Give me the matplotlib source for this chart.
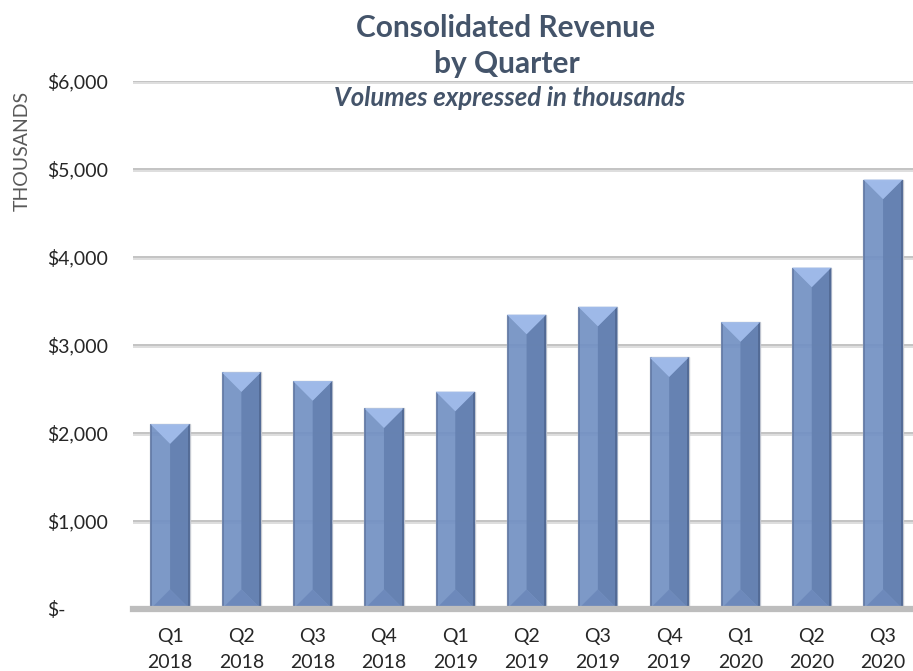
import matplotlib
matplotlib.use("Agg")
import matplotlib.pyplot as plt
from matplotlib.patches import Polygon
import numpy as np

quarters = ["Q1", "Q2", "Q3", "Q4", "Q1", "Q2", "Q3", "Q4", "Q1", "Q2", "Q3"]
years = ["2018", "2018", "2018", "2018", "2019", "2019", "2019", "2019", "2020", "2020", "2020"]
revenue = [2100, 2690, 2590, 2280, 2470, 3345, 3435, 2860, 3260, 3880, 4880]
yticks = [0, 1000, 2000, 3000, 4000, 5000, 6000]
ytick_labels = ["$-", "$1,000", "$2,000", "$3,000", "$4,000", "$5,000", "$6,000"]

plt.rcParams['font.family'] = ['Lato', 'DejaVu Sans']

W, H = 913, 671
fig = plt.figure(figsize=(W / 100, H / 100), dpi=100)
ax = fig.add_axes([133 / W, 1 - 609 / H, (913 - 133) / W, (609 - 81) / H])
ax.set_xlim(-0.52, 10.42)
ax.set_ylim(0, 6000)
for s in ax.spines.values():
    s.set_visible(False)

ppx = ax.transData.transform((1, 0))[0] - ax.transData.transform((0, 0))[0]
ppy = ax.transData.transform((0, 1))[1] - ax.transData.transform((0, 0))[1]

# gridlines (line with soft shadow)
for yv in yticks[1:]:
    ax.axhline(yv, color="#b9b9b9", lw=1.2, zorder=1)
    ax.axhline(yv - 1.6 / ppy, color="#dedede", lw=1.4, zorder=1)
ax.axhline(0, color="#bdbdbd", lw=4.5, zorder=4, clip_on=False)

x = np.arange(len(revenue))
bw = 0.55
bars = ax.bar(x, revenue, width=bw, color="#7290c3", edgecolor="#c6c9d0",
              linewidth=1.0, alpha=0.92, zorder=2)

# bevel shading computed from bar geometry
for b in bars:
    x0 = b.get_x()
    w = b.get_width()
    h = b.get_height()
    xc = x0 + w / 2
    d = (w / 2) * ppx / ppy  # 45-degree depth in data units
    e = 2.0 / ppx  # narrow edge strip
    # right half darker
    ax.add_patch(Polygon([(xc, d), (x0 + w, 0), (x0 + w, h), (xc, h - d)],
                         closed=True, facecolor="#6480b0", alpha=0.9, lw=0, zorder=2.5))
    # darker edge strips
    ax.add_patch(Polygon([(x0, 0), (x0 + e, 0), (x0 + e, h), (x0, h)],
                         closed=True, facecolor="#5d76a3", alpha=0.8, lw=0, zorder=2.55))
    ax.add_patch(Polygon([(x0 + w - e, 0), (x0 + w, 0), (x0 + w, h), (x0 + w - e, h)],
                         closed=True, facecolor="#4f6690", alpha=0.8, lw=0, zorder=2.55))
    # top triangle
    ax.add_patch(Polygon([(x0, h), (x0 + w, h), (xc, h - d)],
                         closed=True, facecolor="#a0bbea", alpha=0.97, lw=0, zorder=2.6))
    # bottom triangle
    ax.add_patch(Polygon([(x0, 0), (x0 + w, 0), (xc, d)],
                         closed=True, facecolor="#6d89bb", alpha=0.95, lw=0, zorder=2.6))

ax.set_yticks(yticks)
ax.set_yticklabels(ytick_labels, fontsize=14, color="#262626", ha="left")
ax.tick_params(axis="y", length=0, pad=86 * 72 / 100)
ax.set_xticks(x)
ax.set_xticklabels([f"{q}\n{y}" for q, y in zip(quarters, years)], fontsize=14,
                   color="#262626", linespacing=1.65)
ax.tick_params(axis="x", length=0, pad=13.5)

fig.text(22 / W, 1 - 151 / H, "THOUSANDS", rotation=90, ha="center", va="center",
         fontsize=14, color="#595959")

title_color = "#44546A"
fig.text(506 / W, 1 - 28 / H, "Consolidated Revenue", ha="center", va="center",
         fontsize=21.5, fontweight="bold", color=title_color)
fig.text(507 / W, 1 - 64 / H, "by Quarter", ha="center", va="center",
         fontsize=21.5, fontweight="bold", color=title_color)
fig.text(510 / W, 1 - 98 / H, "Volumes expressed in thousands", ha="center", va="center",
         fontsize=18.5, fontweight="bold", fontstyle="italic", color=title_color)

fig.savefig("out.png", dpi=100)
